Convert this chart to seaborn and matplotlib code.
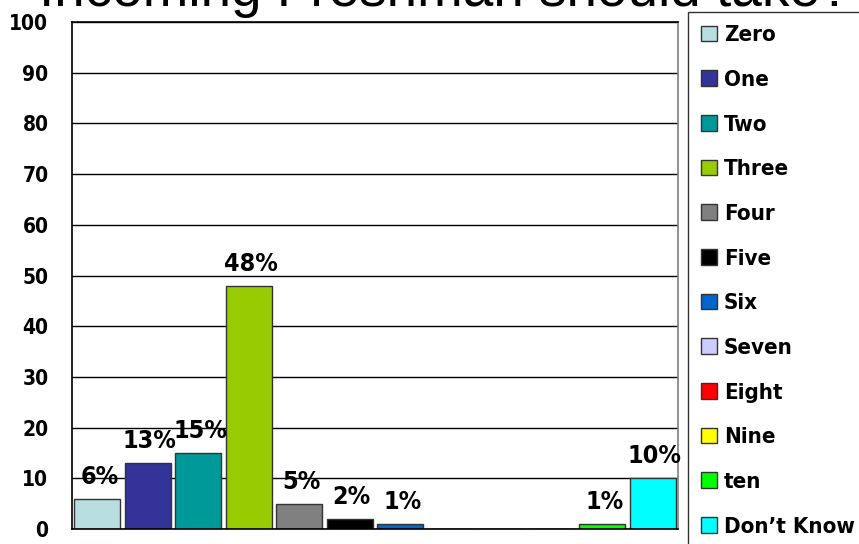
import pandas as pd
import matplotlib.pyplot as plt
import seaborn as sns
from matplotlib import font_manager

# Datos
categorias = ['Zero', 'One', 'Two', 'Three', 'Four', 'Five', 'Six',
              'Seven', 'Eight', 'Nine', 'ten', 'Don\u2019t Know']
porcentajes = [6, 13, 15, 48, 5, 2, 1, 0, 0, 0, 1, 10]
colores = ['#B8DEE0', '#333399', '#009999', '#99CC00', '#808080', '#000000',
           '#0066CC', '#CCCCFF', '#FF0000', '#FFFF00', '#00FF00', '#00FFFF']
titulo = 'Incoming Freshman should take?'
yticks = list(range(0, 101, 10))


def buscar_fuente_estrecha():
    """Busca una fuente condensada en negrita; si no hay, usa Liberation Sans."""
    for f in font_manager.fontManager.ttflist:
        nombre = f.name.lower()
        estrecha = ('narrow' in nombre or 'condensed' in nombre
                    or f.stretch in ('condensed', 'semi-condensed', 'extra-condensed'))
        if estrecha and f.weight in ('bold', 700, 'heavy', 800) and 'serif' not in nombre:
            return font_manager.FontProperties(fname=f.fname), True
    return font_manager.FontProperties(family='Liberation Sans', weight='bold'), False


def graficar():
    sns.set_style('white')
    plt.rcParams['font.family'] = ['Liberation Sans', 'DejaVu Sans']
    plt.rcParams['text.color'] = 'black'
    plt.rcParams['ytick.labelcolor'] = 'black'

    fuente, es_estrecha = buscar_fuente_estrecha()
    escala = 1.0 if es_estrecha else 0.85

    datos = pd.DataFrame({'cat': categorias, 'val': porcentajes})

    fig = plt.figure(figsize=(8.59, 5.44), dpi=100)
    ax = fig.add_axes([72 / 859, 1 - 529 / 544, 606 / 859, 507 / 544])

    sns.barplot(data=datos, x='cat', y='val', hue='cat', order=categorias,
                hue_order=categorias, palette=colores, width=0.92,
                edgecolor='#333333', linewidth=1, saturation=1,
                legend=True, ax=ax)

    ax.set_xlim(-0.5, len(categorias) - 0.5)
    ax.set_ylim(0, 100)
    ax.set_xlabel('')
    ax.set_ylabel('')

    # rejilla y marco
    ax.set_yticks(yticks)
    ax.yaxis.grid(True, color='black', linewidth=1)
    ax.set_axisbelow(True)
    for lado in ['left', 'bottom', 'top']:
        ax.spines[lado].set_color('black')
        ax.spines[lado].set_linewidth(1.2)
    ax.spines['right'].set_color('#808080')
    ax.spines['right'].set_linewidth(1.2)

    ax.set_xticks([i - 0.5 for i in range(len(categorias) + 1)])
    ax.set_xticklabels([])
    ax.tick_params(axis='x', length=8, color='#606060', width=1, direction='out')
    ax.tick_params(axis='y', length=7, color='#606060', width=1, direction='out', pad=10)
    for t in ax.get_yticklabels():
        t.set_fontproperties(fuente)
        t.set_fontsize(15 * escala)
        t.set_color('black')

    # etiquetas de porcentaje
    for i, v in enumerate(porcentajes):
        if v == 0:
            continue
        ax.annotate(f'{v}%', xy=(i, v), xytext=(2, 15), textcoords='offset pixels',
                    ha='center', va='baseline', fontproperties=fuente,
                    fontsize=18 * escala, color='black')

    # leyenda
    prop_leyenda = fuente.copy()
    prop_leyenda.set_size(16 * escala)
    sns.move_legend(ax, 'upper left', bbox_to_anchor=(688 / 859, 1 - 12 / 544),
                    bbox_transform=fig.transFigure, title=None, frameon=True,
                    fancybox=False, borderaxespad=0, borderpad=0.6,
                    handlelength=0.72, handleheight=0.72, handletextpad=0.3,
                    labelspacing=1.11, prop=prop_leyenda)
    leg = ax.get_legend()
    leg.get_frame().set_edgecolor('black')
    leg.get_frame().set_linewidth(1)
    for h in leg.legend_handles:
        h.set_edgecolor('#333333')
        h.set_linewidth(1)
    for t in leg.get_texts():
        t.set_color('black')

    fig.text(445 / 859, 1 - 6 / 544, titulo, ha='center', va='baseline',
             fontsize=39.5, family=['Liberation Sans', 'DejaVu Sans'])

    fig.savefig('out.png', dpi=100)


if __name__ == '__main__':
    graficar()
